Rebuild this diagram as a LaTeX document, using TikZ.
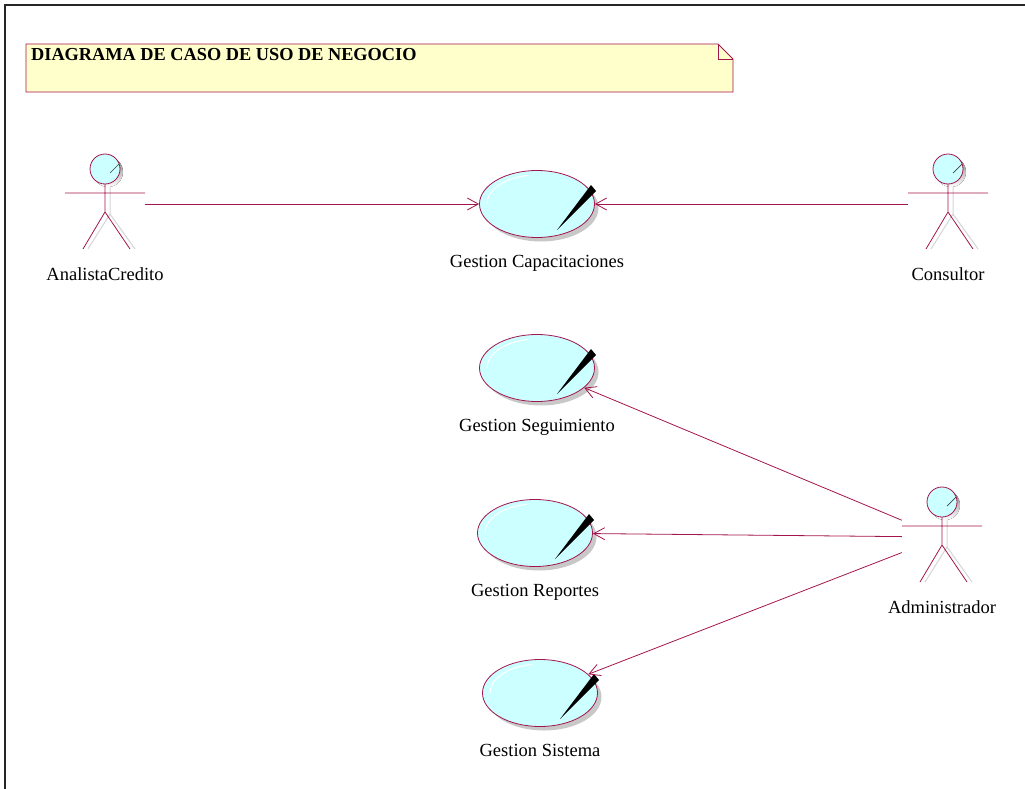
\documentclass[tikz,border=0pt]{standalone}
\usepackage{fontspec}
\setmainfont{Liberation Serif}
\usetikzlibrary{shapes.geometric,arrows.meta,shadows,calc,positioning}

\definecolor{umlline}{HTML}{A3154D}
\definecolor{ucfill}{HTML}{CCFFFF}
\definecolor{notefill}{HTML}{FFFFCC}
\definecolor{shade}{HTML}{C8C8C8}
\definecolor{lightshade}{HTML}{D4D4D4}

\tikzset{
    usecase/.style={
        ellipse, draw=umlline, fill=ucfill, line width=0.8pt,
        minimum width=115pt, minimum height=67pt, inner sep=0pt,
        drop shadow={shadow xshift=4pt, shadow yshift=-4pt, fill=shade, opacity=1},
    },
    lbl/.style={font=\fontsize{18.5}{21}\selectfont, inner sep=0pt},
    actorbox/.style={minimum width=80pt, minimum height=100pt, inner sep=0pt},
    assoc/.style={umlline, line width=0.8pt, -{Straight Barb[length=11pt,width=12pt]}},
    actor/.pic={
        \draw[lightshade, line width=1pt] (5,-20) -- (5,10) -- (-17,45) (5,10) -- (30,45);
        \fill[shade] (3,-32) circle[radius=15pt];
        \draw[umlline, fill=ucfill, line width=0.8pt] (0,-35) circle[radius=15pt];
        \draw[black!75, line width=0.7pt] (5,-31) -- (14,-40);
        \draw[umlline, line width=0.8pt] (0,-20) -- (0,8) -- (-22,45) (0,8) -- (25,45)
            (-40,-11) -- (40,-11);
    },
}

\newcommand{\ucmark}[1]{%
    \fill[black] ($(#1.center)+(54,-19)$) -- ($(#1.center)+(59,-13)$) -- ($(#1.center)+(20,26)$) -- cycle;
    \draw[white, line width=1pt] ($(#1.center)+(-50,0)$)
        arc[start angle=180, end angle=100, x radius=50pt, y radius=29pt];
}

\begin{document}
\begin{tikzpicture}[x=1pt, y=-1pt]
    \useasboundingbox (0,0) rectangle (1025,789);
    % frame
    \draw[black!85, line width=2pt] (5,789) -- (5,5) -- (1025,5);

    % title note
    \coordinate (nw) at (26,44);
    \coordinate (se) at (733,92);
    \draw[umlline, fill=notefill, line width=0.8pt]
        (nw) -- ($(se|-nw)+(-15,0)$) -- ($(se|-nw)+(0,15)$) -- (se) -- (nw|-se) -- cycle;
    \draw[umlline, line width=0.8pt] ($(se|-nw)+(-15,0)$) -- ($(se|-nw)+(-15,15)$) -- ($(se|-nw)+(0,15)$);
    \node[font=\fontsize{18.3}{21}\selectfont\bfseries, anchor=base west, inner sep=0pt] (title)
        at (31,61) {DIAGRAMA DE CASO DE USO DE NEGOCIO};

    % actors
    \node[actorbox] (analista) at (105,204) {};
    \node[actorbox] (consultor) at (948,204) {};
    \node[actorbox] (admin) at (942,537) {};
    \pic at (analista) {actor};
    \pic at (consultor) {actor};
    \pic at (admin) {actor};
    \node[lbl, below=13pt of analista] (analistaLbl) {AnalistaCredito};
    \node[lbl, below=13pt of consultor] (consultorLbl) {Consultor};
    \node[lbl, below=13pt of admin] (adminLbl) {Administrador};

    % use cases
    \node[usecase] (cap) at (537,204) {};
    \node[usecase] (seg) at (537,368) {};
    \node[usecase] (rep) at (535,533) {};
    \node[usecase] (sis) at (540,693) {};
    \foreach \uc in {cap,seg,rep,sis} {\ucmark{\uc}}
    \node[lbl, below=17pt of cap] (capLbl) {Gestion Capacitaciones};
    \node[lbl, below=17pt of seg] (segLbl) {Gestion Seguimiento};
    \node[lbl, below=17pt of rep] (repLbl) {Gestion Reportes};
    \node[lbl, below=17pt of sis] (sisLbl) {Gestion Sistema};

    % associations
    \draw[assoc] (analista) -- (cap);
    \draw[assoc] (consultor) -- (cap);
    \draw[assoc] (admin) -- (seg);
    \draw[assoc] (admin) -- (rep);
    \draw[assoc] (admin) -- (sis);
\end{tikzpicture}
\end{document}
